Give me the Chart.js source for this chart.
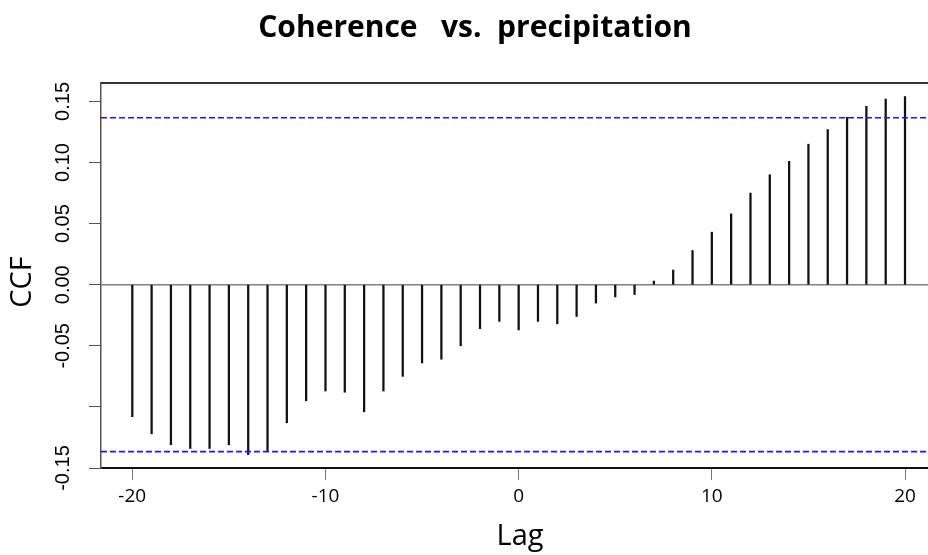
<!DOCTYPE html>
<html lang="en">
<head>
    <meta charset="UTF-8">
    <title>Coherence vs. precipitation</title>
    <script src="https://cdn.jsdelivr.net/npm/chart.js"></script>
    <style>
        html, body {
            margin: 0;
            padding: 0;
            background: #ffffff;
            overflow: hidden;
        }
        .chart-container {
            width: 928px;
            height: 555px;
        }
    </style>
</head>
<body>
    <div class="chart-container">
        <canvas id="ccfChart" width="928" height="555"></canvas>
    </div>

    <script>
        // data
        const lags = [-20, -19, -18, -17, -16, -15, -14, -13, -12, -11, -10, -9, -8, -7, -6, -5, -4, -3, -2, -1,
                      0, 1, 2, 3, 4, 5, 6, 7, 8, 9, 10, 11, 12, 13, 14, 15, 16, 17, 18, 19, 20];
        const ccfValues = [-0.108, -0.122, -0.131, -0.134, -0.134, -0.131, -0.139, -0.136, -0.113, -0.095,
                           -0.087, -0.088, -0.104, -0.087, -0.075, -0.064, -0.061, -0.050, -0.036, -0.030,
                           -0.037, -0.030, -0.032, -0.026, -0.015, -0.010, -0.008, 0.003, 0.012, 0.028,
                           0.043, 0.058, 0.075, 0.090, 0.101, 0.115, 0.127, 0.137, 0.146, 0.152, 0.154];
        const confLimit = 0.1366;
        const xTicks = [-20, -10, 0, 10, 20];
        const yTicks = [-0.15, -0.10, -0.05, 0, 0.05, 0.10, 0.15];
        const yTickLabels = ['-0.15', '', '-0.05', '0.00', '0.05', '0.10', '0.15'];

        const xMin = -21.62, xMax = 21.19;
        const yMin = -0.15, yMax = 0.1651;

        const textPlugin = {
            id: 'rText',
            afterDraw(chart) {
                const ctx = chart.ctx;
                const area = chart.chartArea;
                const yScale = chart.scales.y;
                ctx.save();
                // top border of the box
                ctx.strokeStyle = '#333';
                ctx.lineWidth = 2;
                ctx.beginPath();
                ctx.moveTo(area.left, area.top);
                ctx.lineTo(area.right, area.top);
                ctx.stroke();

                // rotated y tick labels
                ctx.fillStyle = '#000';
                ctx.font = '20px "Liberation Sans", Arial, sans-serif';
                ctx.textAlign = 'center';
                ctx.textBaseline = 'middle';
                yTicks.forEach((v, i) => {
                    if (!yTickLabels[i]) return;
                    const py = yScale.getPixelForValue(v);
                    ctx.save();
                    ctx.translate(63, py);
                    ctx.rotate(-Math.PI / 2);
                    ctx.fillText(yTickLabels[i], 0, 0);
                    ctx.restore();
                });

                // axis titles
                ctx.font = '29px "Open Sans", sans-serif';
                ctx.save();
                ctx.translate(23, 282);
                ctx.rotate(-Math.PI / 2);
                ctx.fillText('CCF', 0, 0);
                ctx.restore();
                ctx.textBaseline = 'alphabetic';
                ctx.fillText('Lag', 520, 545);

                // main title
                ctx.font = 'bold 30px "Open Sans", sans-serif';
                ctx.fillText('Coherence   vs.  precipitation', 475, 37, 436);
                ctx.restore();
            }
        };

        const ctx = document.getElementById('ccfChart').getContext('2d');
        new Chart(ctx, {
            type: 'bar',
            data: {
                datasets: [
                    {
                        label: 'CCF',
                        data: lags.map((l, i) => ({ x: l, y: ccfValues[i] })),
                        backgroundColor: '#111',
                        barThickness: 1.6,
                        grouped: false,
                        order: 1
                    },
                    {
                        type: 'line',
                        label: 'zero',
                        data: [{ x: xMin, y: 0 }, { x: xMax, y: 0 }],
                        borderColor: '#808080',
                        borderWidth: 1.5,
                        pointRadius: 0,
                        order: 2
                    },
                    {
                        type: 'line',
                        label: 'upper',
                        data: [{ x: xMin, y: confLimit }, { x: xMax, y: confLimit }],
                        borderColor: '#1a1aff',
                        borderWidth: 1.6,
                        borderDash: [6, 3],
                        pointRadius: 0,
                        order: 0
                    },
                    {
                        type: 'line',
                        label: 'lower',
                        data: [{ x: xMin, y: -confLimit }, { x: xMax, y: -confLimit }],
                        borderColor: '#1a1aff',
                        borderWidth: 1.6,
                        borderDash: [6, 3],
                        pointRadius: 0,
                        order: 0
                    }
                ]
            },
            options: {
                responsive: false,
                animation: false,
                layout: { padding: { top: 83, right: 0, left: 0, bottom: 0 } },
                plugins: {
                    legend: { display: false },
                    tooltip: { enabled: false },
                    title: { display: false }
                },
                scales: {
                    x: {
                        type: 'linear',
                        min: xMin,
                        max: xMax,
                        offset: false,
                        afterBuildTicks: (scale) => { scale.ticks = xTicks.map(v => ({ value: v })); },
                        afterFit: (scale) => { scale.height = 87; },
                        ticks: {
                            color: '#000',
                            font: { family: '"Open Sans", sans-serif', size: 19 },
                            padding: 5,
                            maxRotation: 0
                        },
                        grid: {
                            offset: false,
                            drawOnChartArea: false,
                            drawTicks: true,
                            tickLength: 12,
                            color: '#777'
                        },
                        border: { color: '#111', width: 2 }
                    },
                    y: {
                        min: yMin,
                        max: yMax,
                        afterBuildTicks: (scale) => { scale.ticks = yTicks.map(v => ({ value: v })); },
                        afterFit: (scale) => { scale.width = 101; },
                        ticks: { display: false },
                        grid: {
                            drawOnChartArea: false,
                            drawTicks: true,
                            tickLength: 12,
                            color: '#555'
                        },
                        border: { color: '#555', width: 1.5 }
                    }
                }
            },
            plugins: [textPlugin]
        });
    </script>
</body>
</html>
